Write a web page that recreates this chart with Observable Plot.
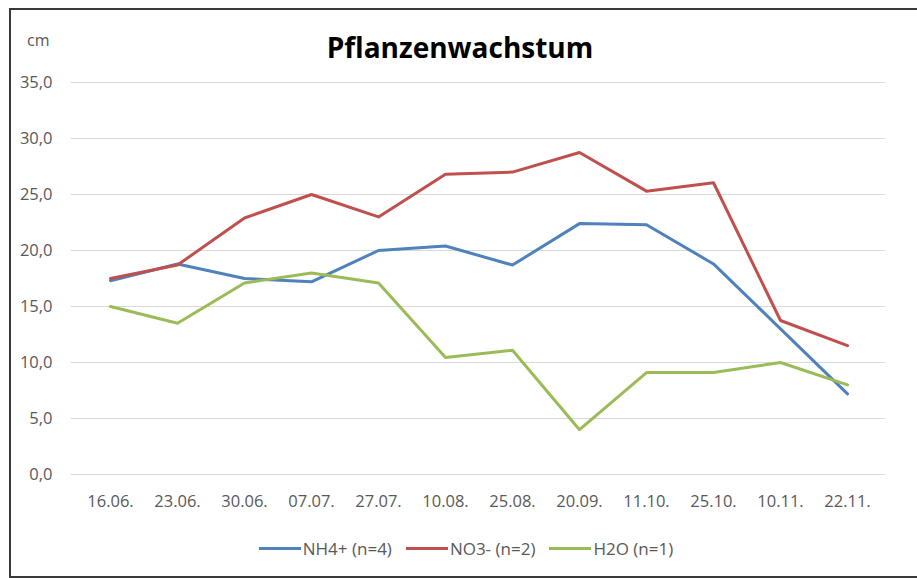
<!DOCTYPE html>
<html>
<head>
<meta charset="utf-8">
<script src="https://cdn.jsdelivr.net/npm/d3@7"></script>
<script src="https://cdn.jsdelivr.net/npm/@observablehq/plot@0.6"></script>
<style>
  body { margin: 0; background: #fff; font-family: "Open Sans", sans-serif; }
  #wrap { position: relative; width: 917px; height: 578px; overflow: hidden; background: #fff; }
  #frame { position: absolute; left: 9px; top: 8px; width: 960px; height: 566px; border: 2px solid #3a3a3a; border-right: none; }
  #title { position: absolute; left: 0; width: 920px; top: 28px; text-align: center; font-size: 28px; font-weight: bold; color: #000; }
  #unit { position: absolute; left: 27px; top: 29px; font-size: 16px; color: #595959; }
  #chart { position: absolute; left: 0; top: 0; }
  #legend { position: absolute; left: 0; width: 932px; top: 537px; display: flex; justify-content: center; align-items: center; font-size: 17px; color: #595959; }
  .item { display: flex; align-items: center; margin: 0 7px; }
  .swatch { width: 42px; height: 3px; margin-right: 2px; }
  #chart svg text { font-size: 16.5px; }
</style>
</head>
<body>
<div id="wrap">
  <div id="frame"></div>
  <div id="chart"></div>
  <div id="unit">cm</div>
  <div id="title">Pflanzenwachstum</div>
  <div id="legend"></div>
</div>
<script>
const dates = ["16.06.", "23.06.", "30.06.", "07.07.", "27.07.", "10.08.", "25.08.", "20.09.", "11.10.", "25.10.", "10.11.", "22.11."];
const nh4 = [17.3, 18.8, 17.5, 17.2, 20.0, 20.4, 18.7, 22.4, 22.3, 18.8, 13.0, 7.2];
const no3 = [17.5, 18.7, 22.9, 25.0, 23.0, 26.8, 27.0, 28.75, 25.3, 26.05, 13.75, 11.5];
const h2o = [15.0, 13.5, 17.1, 18.0, 17.1, 10.45, 11.1, 4.0, 9.1, 9.1, 10.0, 8.0];
const seriesNames = ["NH4+ (n=4)", "NO3- (n=2)", "H2O (n=1)"];
const seriesColors = ["#4F81BD", "#C0504D", "#9BBB59"];
const yTicks = [0, 5, 10, 15, 20, 25, 30, 35];

const seriesValues = [nh4, no3, h2o];
const rows = [];
seriesNames.forEach((name, s) => {
  dates.forEach((d, i) => rows.push({ date: d, value: seriesValues[s][i], series: name }));
});

const fmt = d => d.toFixed(1).replace(".", ",");

const chart = Plot.plot({
  width: 917,
  height: 578,
  marginTop: 82,
  marginBottom: 104,
  marginLeft: 71,
  marginRight: 32,
  style: { fontFamily: "Open Sans, sans-serif", fontSize: "16.5px", color: "#595959", background: "transparent" },
  x: { type: "point", domain: dates, padding: 0.5 },
  y: { domain: [0, 35] },
  color: { domain: seriesNames, range: seriesColors },
  marks: [
    Plot.ruleY(yTicks, { stroke: "#d9d9d9", strokeWidth: 1 }),
    Plot.axisY(yTicks, { tickSize: 0, tickPadding: 19, tickFormat: fmt, label: null, fill: "#595959" }),
    Plot.axisX({ tickSize: 0, tickPadding: 21, label: null, fill: "#595959" }),
    Plot.line(rows, { x: "date", y: "value", z: "series", stroke: "series", strokeWidth: 3, strokeLinejoin: "round", strokeLinecap: "round" })
  ]
});
document.getElementById("chart").appendChild(chart);

const legend = document.getElementById("legend");
seriesNames.forEach((name, i) => {
  const item = document.createElement("div");
  item.className = "item";
  const sw = document.createElement("span");
  sw.className = "swatch";
  sw.style.background = seriesColors[i];
  const tx = document.createElement("span");
  tx.textContent = name;
  item.appendChild(sw);
  item.appendChild(tx);
  legend.appendChild(item);
});
</script>
</body>
</html>
